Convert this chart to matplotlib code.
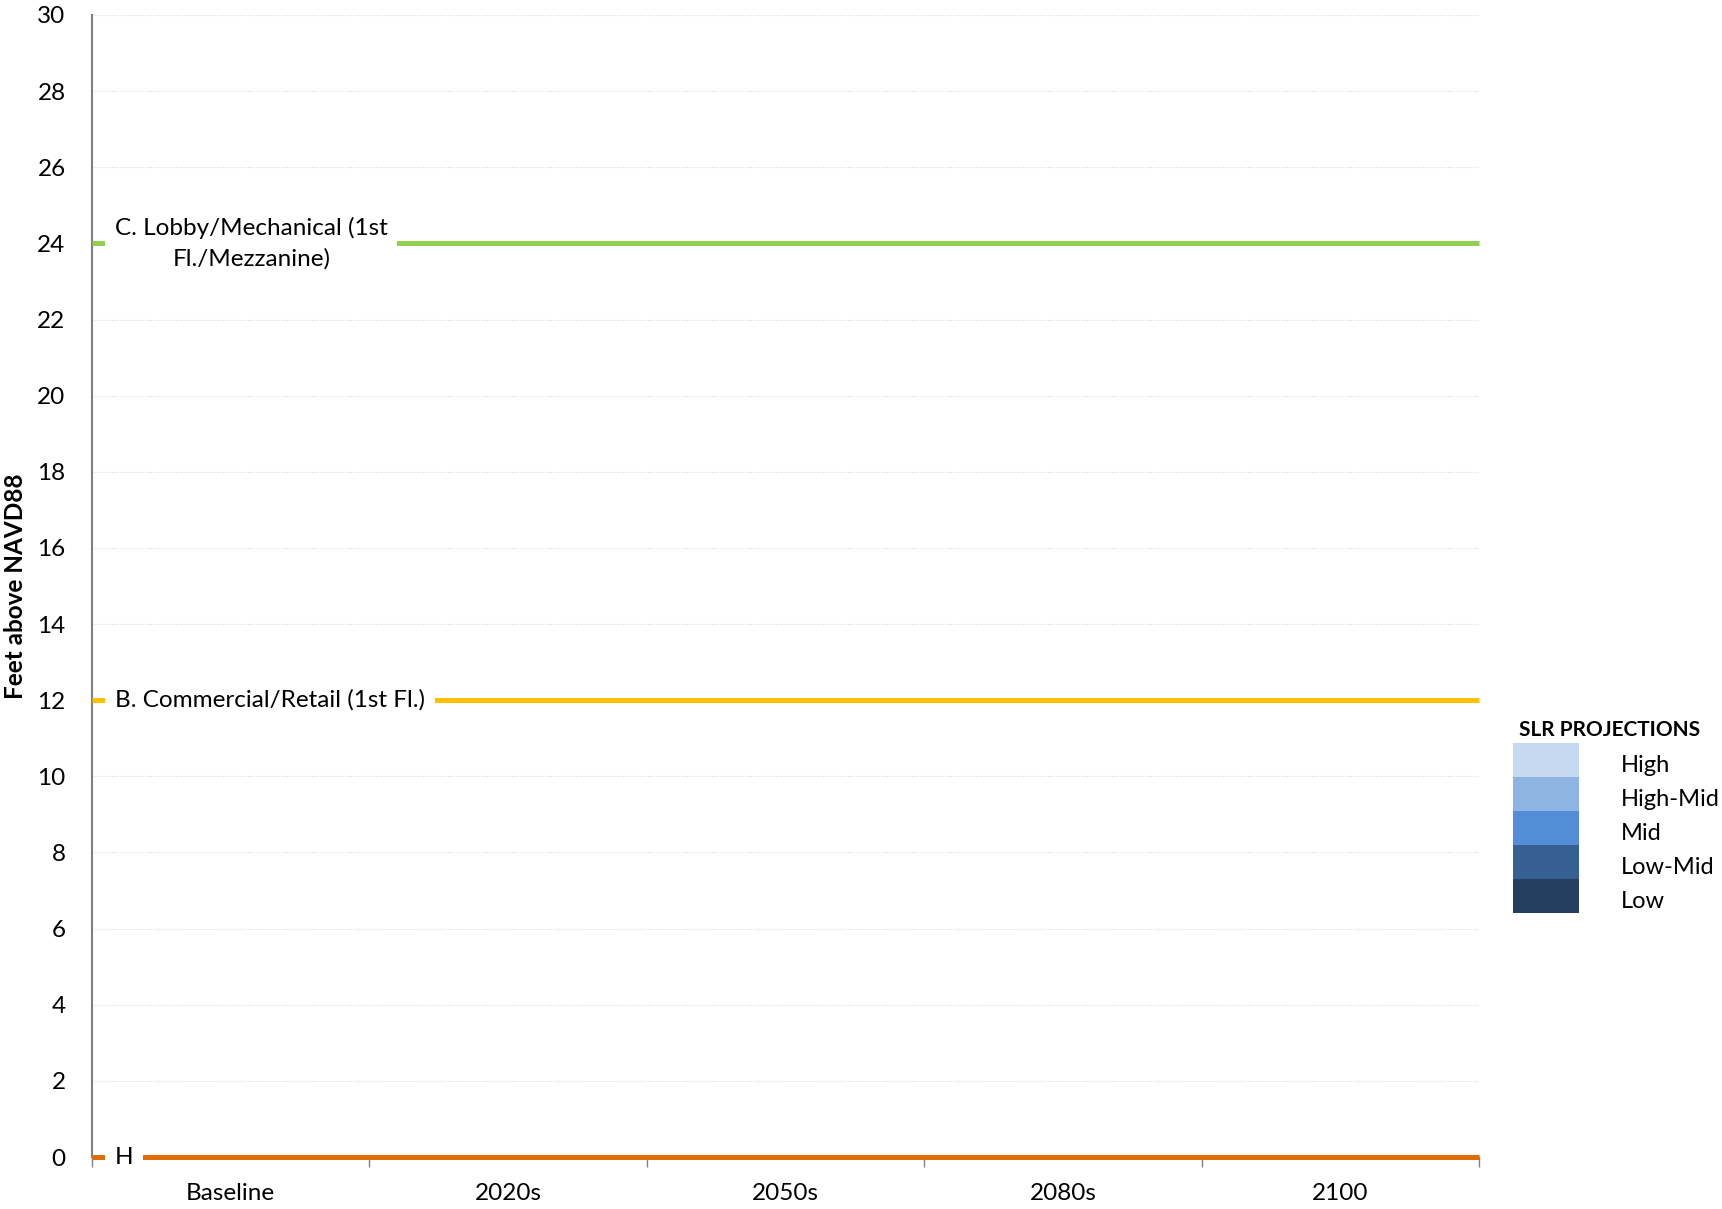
import matplotlib
matplotlib.use("Agg")
import matplotlib.pyplot as plt

plt.rcParams['font.family'] = ['Lato', 'DejaVu Sans']

# time horizons along the x axis
periods = ['Baseline', '2020s', '2050s', '2080s', '2100']

# critical floor elevations (feet above NAVD88)
level_names = ['H', 'B. Commercial/Retail (1st Fl.)',
               'C. Lobby/Mechanical (1st\nFl./Mezzanine)']
level_values = [0, 12, 24]
level_colors = ['#E36C0A', '#FFC000', '#92D050']

# sea level rise scenarios shown in the key (top to bottom)
slr_names = ['High', 'High-Mid', 'Mid', 'Low-Mid', 'Low']
slr_colors = ['#C5D9F1', '#8DB4E2', '#538DD5', '#366092', '#243F60']

yticks = list(range(0, 31, 2))
FS = 17.5

fig = plt.figure(figsize=(17.22, 12.09), dpi=100)
ax = fig.add_axes([0.0534, 0.043, 0.8056, 0.9446])

ax.set_xlim(0, len(periods))
ax.set_ylim(0, 30)

# faint horizontal grid
for y in yticks:
    ax.axhline(y, color='#D9D9D9', lw=0.8, ls=(0, (1, 1.5)), zorder=0)

# elevation lines with labels sitting on a white box that breaks the line
for name, val, col in zip(level_names, level_values, level_colors):
    ax.plot([0, len(periods)], [val, val], color=col, lw=3.6,
            solid_capstyle='butt', zorder=3, clip_on=False)
    ax.text(0.083, val, name, ha='left', va='center', multialignment='center',
            fontsize=FS, color='black', zorder=4, linespacing=1.55,
            bbox=dict(facecolor='white', edgecolor='none', pad=7))

# axes styling
for s in ['top', 'right']:
    ax.spines[s].set_visible(False)
ax.spines['left'].set_color('#808080')
ax.spines['left'].set_linewidth(1.5)
ax.spines['bottom'].set_color('#808080')
ax.spines['bottom'].set_linewidth(1.0)

ax.set_yticks(yticks)
ax.set_yticklabels([str(y) for y in yticks])
ax.tick_params(axis='y', length=0, pad=19, labelsize=FS)

ax.set_xticks([i + 0.5 for i in range(len(periods))])
ax.set_xticklabels(periods)
ax.set_xticks(range(len(periods) + 1), minor=True)
ax.tick_params(axis='x', which='major', length=0, pad=19, labelsize=FS)
ax.tick_params(axis='x', which='minor', length=7, width=1.0,
               color='#808080', direction='out')

ax.set_ylabel('Feet above NAVD88', fontsize=FS, fontweight='bold', va='center')
ax.yaxis.set_label_coords(-0.0548, 0.5)

# scenario key: a stack of colour blocks with names beside them
kax = fig.add_axes([1513 / 1722, 1 - 913 / 1209, 66 / 1722, 170 / 1209])
n = len(slr_names)
for i, (name, col) in enumerate(zip(slr_names, slr_colors)):
    kax.bar(0.5, 1, width=1, bottom=n - 1 - i, color=col, edgecolor='none')
    kax.text(1.64, n - 0.67 - i, name, ha='left', va='center',
             fontsize=17, color='black')
kax.set_xlim(0, 1)
kax.set_ylim(0, n)
kax.axis('off')
kax.text(0.09, n + 0.38, 'SLR PROJECTIONS', ha='left', va='center',
         fontsize=15, fontweight='bold', color='black')

fig.savefig('out.png', dpi=100, facecolor='white')
